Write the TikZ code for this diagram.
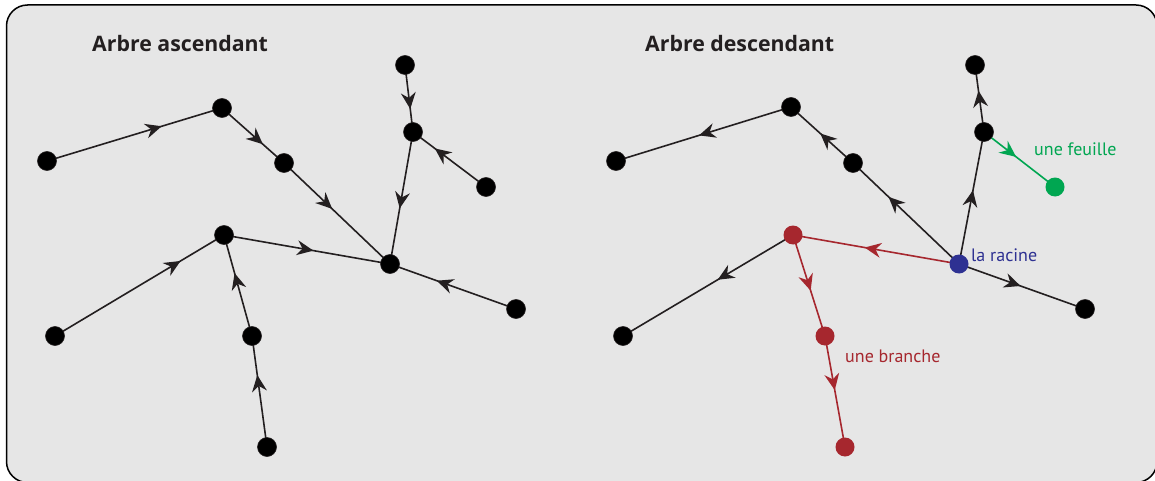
\documentclass[tikz,border=0pt]{standalone}
\usepackage{fontspec}
\setmainfont{PT Sans}
\newfontfamily\titlefont{Open Sans}
\usetikzlibrary{decorations.markings}
\definecolor{bggray}{HTML}{E6E6E6}
\definecolor{linek}{HTML}{231F20}
\definecolor{branchred}{RGB}{166,39,46}
\definecolor{leafgreen}{HTML}{00A651}
\definecolor{rootblue}{HTML}{2E3192}
\pgfdeclarelayer{bg}
\pgfsetlayers{bg,main}
\tikzset{
  dot/.style={circle,fill=black,draw=linek,line width=0.6pt,inner sep=0pt,minimum size=19pt},
  cdot/.style={circle,fill=#1,inner sep=0pt,minimum size=19pt},
  edge/.style={color=linek,line width=1.6pt},
  arr/.style={postaction={decorate},decoration={markings,
      mark=at position #1 with {\fill (6.5,0) -- (-10,7.5) -- (-4.5,0) -- (-10,-7.5) -- cycle;}}},
  title/.style={font=\titlefont\fontsize{21.3}{25}\selectfont\bfseries,text=linek,anchor=base west,inner sep=0pt},
  lbl/.style={font=\fontsize{18}{22}\selectfont,anchor=base west,inner sep=0pt}
}
\begin{document}
\begin{tikzpicture}[x=1pt,y=-1pt]
\useasboundingbox (0,0) rectangle (1155,481);
\begin{pgfonlayer}{bg}
\clip (0,0) rectangle (1155,481);
\draw[fill=bggray,draw=black,line width=1.5pt,rounded corners=21pt] (6.5,5) rectangle (1157,482.5);
\end{pgfonlayer}

% titles
\node[title] (t1) at (92,52) {Arbre ascendant};
\node[title] (t2) at (645,52) {Arbre descendant};

% left tree
\node[dot] (a1) at (47,161) {};
\node[dot] (a2) at (222,108) {};
\node[dot] (a3) at (284,163) {};
\node[dot] (a4) at (405,65) {};
\node[dot] (a5) at (413,132) {};
\node[dot] (a6) at (486,187) {};
\node[dot] (a7) at (390,264) {};
\node[dot] (a8) at (224,235) {};
\node[dot] (a9) at (55,336) {};
\node[dot] (a10) at (252,336) {};
\node[dot] (a11) at (267,447) {};
\node[dot] (a12) at (516,309) {};

% right tree
\node[dot] (b1) at (616,161) {};
\node[dot] (b2) at (791,107) {};
\node[dot] (b3) at (853,163) {};
\node[dot] (b4) at (975,65) {};
\node[dot] (b5) at (984,132) {};
\node[cdot=leafgreen] (b6) at (1055,187) {};
\node[cdot=rootblue] (b7) at (959,264) {};
\node[cdot=branchred] (b8) at (793,235) {};
\node[dot] (b9) at (623,336) {};
\node[cdot=branchred] (b10) at (825,336) {};
\node[cdot=branchred] (b11) at (845,447) {};
\node[dot] (b12) at (1085,309) {};

% labels
\node[lbl,text=leafgreen] (lf) at (1034,156) {une feuille};
\node[lbl,text=rootblue] (lr) at (971,261) {la racine};
\node[lbl,text=branchred] (lb) at (845,362) {une branche};

\begin{pgfonlayer}{bg}
% left edges
\draw[edge,arr=0.62] (a1.center) -- (a2.center);
\draw[edge,arr=0.58] (a2.center) -- (a3.center);
\draw[edge,arr=0.41] (a3.center) -- (a7.center);
\draw[edge,arr=0.56] (a4.center) -- (a5.center);
\draw[edge,arr=0.63] (a6.center) -- (a5.center);
\draw[edge,arr=0.53] (a5.center) -- (a7.center);
\draw[edge,arr=0.50] (a8.center) -- (a7.center);
\draw[edge,arr=0.71] (a9.center) -- (a8.center);
\draw[edge,arr=0.56] (a10.center) -- (a8.center);
\draw[edge,arr=0.59] (a11.center) -- (a10.center);
\draw[edge,arr=0.58] (a12.center) -- (a7.center);
% right edges
\draw[edge,arr=0.49] (b2.center) -- (b1.center);
\draw[edge,arr=0.45] (b3.center) -- (b2.center);
\draw[edge,arr=0.62] (b7.center) -- (b3.center);
\draw[edge,arr=0.52] (b5.center) -- (b4.center);
\draw[edge,arr=0.51] (b7.center) -- (b5.center);
\draw[edge,color=leafgreen,arr=0.38] (b5.center) -- (b6.center);
\draw[edge,color=branchred,arr=0.53] (b7.center) -- (b8.center);
\draw[edge,arr=0.41] (b8.center) -- (b9.center);
\draw[edge,color=branchred,arr=0.49] (b8.center) -- (b10.center);
\draw[edge,color=branchred,arr=0.43] (b10.center) -- (b11.center);
\draw[edge,arr=0.44] (b7.center) -- (b12.center);
\end{pgfonlayer}
\end{tikzpicture}
\end{document}
